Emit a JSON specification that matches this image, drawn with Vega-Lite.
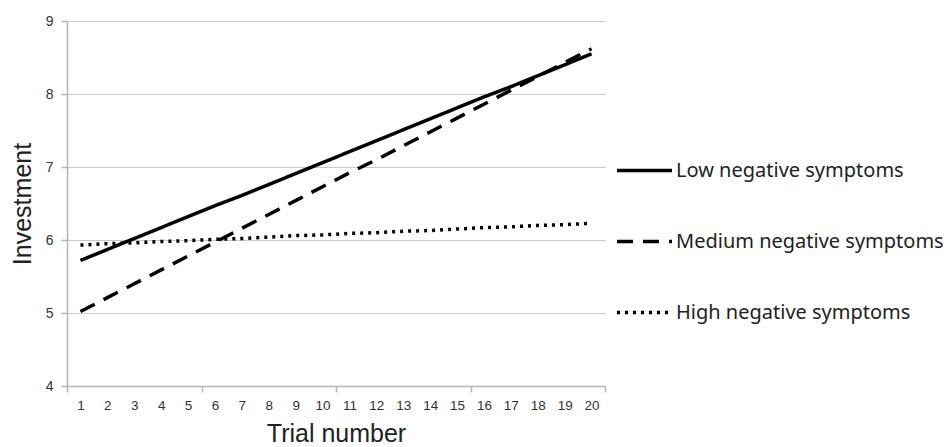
{
  "$schema": "https://vega.github.io/schema/vega-lite/v6.json",
  "width": 538,
  "height": 365,
  "autosize": {"type": "none"},
  "padding": {"left": 67, "top": 21, "right": 344, "bottom": 61},
  "background": "white",
  "config": {"view": {"stroke": null}},
  "data": {
    "values": [
      {"trial": 1, "group": "Low negative symptoms", "investment": 5.72},
      {"trial": 2, "group": "Low negative symptoms", "investment": 5.87},
      {"trial": 3, "group": "Low negative symptoms", "investment": 6.02},
      {"trial": 4, "group": "Low negative symptoms", "investment": 6.17},
      {"trial": 5, "group": "Low negative symptoms", "investment": 6.32},
      {"trial": 6, "group": "Low negative symptoms", "investment": 6.47},
      {"trial": 7, "group": "Low negative symptoms", "investment": 6.61},
      {"trial": 8, "group": "Low negative symptoms", "investment": 6.76},
      {"trial": 9, "group": "Low negative symptoms", "investment": 6.91},
      {"trial": 10, "group": "Low negative symptoms", "investment": 7.06},
      {"trial": 11, "group": "Low negative symptoms", "investment": 7.21},
      {"trial": 12, "group": "Low negative symptoms", "investment": 7.36},
      {"trial": 13, "group": "Low negative symptoms", "investment": 7.51},
      {"trial": 14, "group": "Low negative symptoms", "investment": 7.66},
      {"trial": 15, "group": "Low negative symptoms", "investment": 7.81},
      {"trial": 16, "group": "Low negative symptoms", "investment": 7.96},
      {"trial": 17, "group": "Low negative symptoms", "investment": 8.10},
      {"trial": 18, "group": "Low negative symptoms", "investment": 8.25},
      {"trial": 19, "group": "Low negative symptoms", "investment": 8.40},
      {"trial": 20, "group": "Low negative symptoms", "investment": 8.55},
      {"trial": 1, "group": "Medium negative symptoms", "investment": 5.02},
      {"trial": 2, "group": "Medium negative symptoms", "investment": 5.21},
      {"trial": 3, "group": "Medium negative symptoms", "investment": 5.40},
      {"trial": 4, "group": "Medium negative symptoms", "investment": 5.59},
      {"trial": 5, "group": "Medium negative symptoms", "investment": 5.78},
      {"trial": 6, "group": "Medium negative symptoms", "investment": 5.97},
      {"trial": 7, "group": "Medium negative symptoms", "investment": 6.16},
      {"trial": 8, "group": "Medium negative symptoms", "investment": 6.35},
      {"trial": 9, "group": "Medium negative symptoms", "investment": 6.54},
      {"trial": 10, "group": "Medium negative symptoms", "investment": 6.73},
      {"trial": 11, "group": "Medium negative symptoms", "investment": 6.92},
      {"trial": 12, "group": "Medium negative symptoms", "investment": 7.10},
      {"trial": 13, "group": "Medium negative symptoms", "investment": 7.29},
      {"trial": 14, "group": "Medium negative symptoms", "investment": 7.48},
      {"trial": 15, "group": "Medium negative symptoms", "investment": 7.67},
      {"trial": 16, "group": "Medium negative symptoms", "investment": 7.86},
      {"trial": 17, "group": "Medium negative symptoms", "investment": 8.05},
      {"trial": 18, "group": "Medium negative symptoms", "investment": 8.24},
      {"trial": 19, "group": "Medium negative symptoms", "investment": 8.43},
      {"trial": 20, "group": "Medium negative symptoms", "investment": 8.62},
      {"trial": 1, "group": "High negative symptoms", "investment": 5.93},
      {"trial": 2, "group": "High negative symptoms", "investment": 5.95},
      {"trial": 3, "group": "High negative symptoms", "investment": 5.96},
      {"trial": 4, "group": "High negative symptoms", "investment": 5.98},
      {"trial": 5, "group": "High negative symptoms", "investment": 5.99},
      {"trial": 6, "group": "High negative symptoms", "investment": 6.01},
      {"trial": 7, "group": "High negative symptoms", "investment": 6.02},
      {"trial": 8, "group": "High negative symptoms", "investment": 6.04},
      {"trial": 9, "group": "High negative symptoms", "investment": 6.06},
      {"trial": 10, "group": "High negative symptoms", "investment": 6.07},
      {"trial": 11, "group": "High negative symptoms", "investment": 6.09},
      {"trial": 12, "group": "High negative symptoms", "investment": 6.10},
      {"trial": 13, "group": "High negative symptoms", "investment": 6.12},
      {"trial": 14, "group": "High negative symptoms", "investment": 6.13},
      {"trial": 15, "group": "High negative symptoms", "investment": 6.15},
      {"trial": 16, "group": "High negative symptoms", "investment": 6.17},
      {"trial": 17, "group": "High negative symptoms", "investment": 6.18},
      {"trial": 18, "group": "High negative symptoms", "investment": 6.20},
      {"trial": 19, "group": "High negative symptoms", "investment": 6.21},
      {"trial": 20, "group": "High negative symptoms", "investment": 6.23}
    ]
  },
  "mark": {"type": "line", "color": "black", "strokeWidth": 3.5, "strokeCap": "butt"},
  "encoding": {
    "x": {
      "field": "trial",
      "type": "quantitative",
      "scale": {"domain": [0.5, 20.5], "nice": false, "zero": false},
      "axis": {
        "title": "Trial number",
        "titleFont": "Liberation Sans",
        "titleFontSize": 25,
        "titleFontWeight": "normal",
        "titleColor": "#222",
        "titlePadding": 10,
        "values": [0.5, 1, 2, 3, 4, 5, 5.5, 6, 7, 8, 9, 10, 10.5, 11, 12, 13, 14, 15, 15.5, 16, 17, 18, 19, 20, 20.5],
        "labelExpr": "datum.value % 1 == 0 ? datum.label : ''",
        "labelOverlap": false,
        "labelFlush": false,
        "labelFont": "Liberation Sans",
        "labelFontSize": 13.5,
        "labelColor": "#333",
        "labelPadding": 6,
        "grid": false,
        "domainColor": "#b5b5b5",
        "domainWidth": 1.5,
        "tickColor": "#b5b5b5",
        "tickWidth": 1.5,
        "tickSize": 6,
        "tickOpacity": {"condition": {"test": "datum.value % 1 != 0", "value": 1}, "value": 0}
      }
    },
    "y": {
      "field": "investment",
      "type": "quantitative",
      "scale": {"domain": [4, 9], "nice": false, "zero": false},
      "axis": {
        "title": "Investment",
        "titleFont": "Liberation Sans",
        "titleFontSize": 25,
        "titleFontWeight": "normal",
        "titleColor": "#222",
        "titlePadding": 10,
        "values": [4, 5, 6, 7, 8, 9],
        "labelFont": "Liberation Sans",
        "labelFontSize": 14,
        "labelColor": "#333",
        "labelPadding": 8,
        "grid": true,
        "gridColor": "#c8c8c8",
        "gridWidth": 1.2,
        "domainColor": "#b5b5b5",
        "domainWidth": 1.5,
        "tickColor": "#b5b5b5",
        "tickWidth": 1.5,
        "tickSize": 6
      }
    },
    "strokeDash": {
      "field": "group",
      "type": "nominal",
      "scale": {
        "domain": ["Low negative symptoms", "Medium negative symptoms", "High negative symptoms"],
        "range": [[1, 0], [16, 10], [3, 5]]
      },
      "legend": {
        "title": null,
        "orient": "none",
        "legendX": 548,
        "legendY": 120,
        "padding": 0,
        "symbolType": "stroke",
        "symbolSize": 3025,
        "symbolStrokeWidth": 3.5,
        "symbolStrokeColor": "black",
        "rowPadding": 31,
        "labelOffset": 2,
        "labelFont": "Noto Sans",
        "labelFontSize": 20,
        "labelColor": "#222",
        "labelLimit": 400
      }
    }
  }
}
